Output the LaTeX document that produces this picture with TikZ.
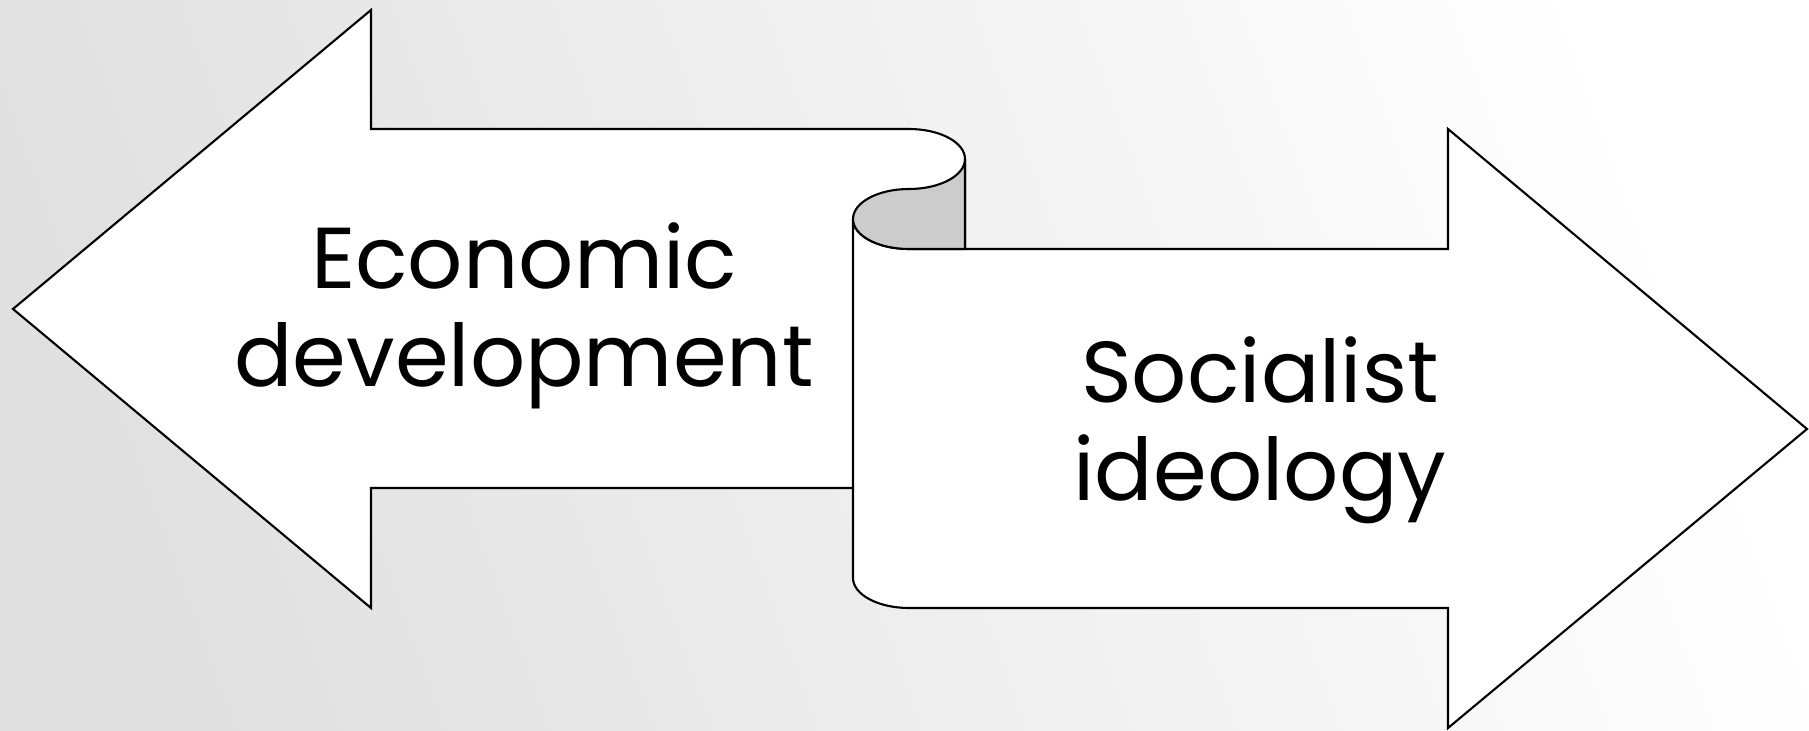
\documentclass[tikz,border=0pt]{standalone}
\usepackage{fontspec}
\setmainfont{Poppins}
\usetikzlibrary{calc}

\begin{document}
\begin{tikzpicture}[x=0.01cm,y=0.01cm,line width=0.6pt,font=\fontsize{24.6}{28}\selectfont]
\useasboundingbox (0,0) rectangle (1809,730);
\shade[top color=white,bottom color=black!12,shading angle=-70] (0,0) rectangle (1809,730);
 % left arrow
 \draw[fill=white] (13,421)--(371,720)--(371,601)--(909,601) arc[start angle=90,end angle=0,x radius=56,y radius=30]--(965,242)--(371,242)--(371,122)--cycle;
 % right arrow
 \draw[fill=white] (853,511) arc[start angle=180,end angle=270,x radius=56,y radius=30]--(1448,481)--(1448,601)--(1807,301)--(1448,2)--(1448,122)--(909,122) arc[start angle=270,end angle=180,x radius=56,y radius=30]--cycle;
 % roll
 \draw[fill=black!20] (965,571) arc[start angle=0,end angle=-90,x radius=56,y radius=30] arc[start angle=90,end angle=180,x radius=56,y radius=30] arc[start angle=180,end angle=270,x radius=56,y radius=30]--(965,481)--cycle;
 \node[align=center] (eco) at (524,414) {Economic\\development};
 \node[align=center] (soc) at (1260,300) {Socialist\\ideology};
\end{tikzpicture}
\end{document}
